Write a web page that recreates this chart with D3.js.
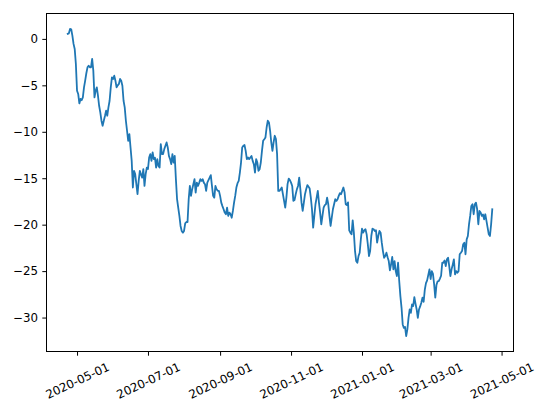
<!DOCTYPE html>
<html><head><meta charset="utf-8">
<script src="https://cdn.jsdelivr.net/npm/d3@7"></script>
<style>
body{margin:0;background:#fff}
svg{display:block}
text{font-family:"DejaVu Sans",sans-serif}
</style>
</head><body>
<svg id="c" width="550" height="413"></svg>
<script>
// ---- data (daily series starting at startDate) ----
const startDate = "2020-04-23";
const values = [
  0.54, 0.6, 1.08, 1.04, 0.36, -0.54, -1.08, -2.7, -5.58, -5.93,
  -6.95, -6.47, -6.6, -6.3, -5.22, -4.5, -3.7, -3.06, -2.88, -3.06,
  -3.06, -2.16, -3.42, -6.3, -5.58, -5.22, -6.12, -7.2, -7.92, -8.81,
  -9.35, -8.81, -8.3, -7.73, -8.27, -7.38, -6.66, -5.22, -4.14, -4.31,
  -3.96, -4.5, -5.22, -5.0, -4.85, -4.31, -4.5, -5.04, -6.66, -7.38,
  -8.81, -9.89, -10.97, -10.25, -11.69, -13.13, -16.0, -14.2, -14.56, -15.64,
  -16.72, -15.29, -14.2, -14.6, -14.93, -14.02, -15.83, -14.56, -13.85, -14.0,
  -12.77, -12.41, -13.13, -12.23, -12.94, -12.8, -13.85, -12.94, -13.67, -13.85,
  -11.33, -12.41, -12.41, -11.87, -11.5, -11.15, -11.69, -12.59, -12.94, -13.48,
  -12.41, -13.31, -12.6, -15.1, -17.26, -18.17, -19.06, -20.14, -20.68, -20.86,
  -20.68, -19.85, -19.71, -19.71, -17.26, -15.83, -16.9, -16.18, -15.64, -15.1,
  -16.55, -15.47, -15.83, -15.5, -15.1, -15.29, -15.1, -15.47, -15.64, -16.36,
  -15.47, -15.2, -14.93, -14.67, -15.83, -16.9, -17.09, -15.83, -16.18, -16.36,
  -16.36, -16.9, -17.63, -18.0, -18.34, -18.7, -18.88, -18.17, -19.06, -18.7,
  -18.88, -19.25, -18.52, -17.63, -16.9, -16.0, -15.53, -15.29, -14.39, -13.31,
  -11.69, -11.51, -11.43, -12.05, -12.94, -12.77, -12.94, -12.77, -12.6, -13.13,
  -13.48, -14.39, -12.94, -13.31, -14.2, -14.02, -13.31, -12.05, -10.97, -10.8,
  -10.61, -9.54, -8.81, -9.0, -9.89, -11.15, -12.05, -11.15, -10.43, -10.79,
  -12.41, -16.36, -16.36, -16.2, -16.0, -16.72, -17.44, -18.17, -17.09, -15.64,
  -15.04, -15.2, -15.47, -15.83, -17.44, -17.34, -16.72, -16.2, -15.83, -14.93,
  -16.18, -17.63, -18.52, -17.63, -16.72, -16.18, -15.75, -15.9, -16.11, -17.09,
  -18.34, -20.32, -19.06, -17.8, -17.09, -16.36, -17.63, -18.7, -19.96, -19.06,
  -18.17, -17.9, -17.8, -17.09, -17.8, -19.06, -20.14, -19.25, -18.34, -17.8,
  -17.26, -17.44, -17.26, -16.9, -16.61, -16.72, -16.36, -16.0, -16.5, -17.8,
  -17.9, -17.6, -20.6, -20.86, -21.04, -19.53, -20.86, -22.84, -23.92, -24.1,
  -23.38, -23.02, -21.58, -20.43, -20.86, -20.6, -20.5, -21.04, -22.11, -23.38,
  -22.84, -21.22, -20.43, -20.5, -20.68, -20.6, -21.94, -21.22, -20.68, -20.86,
  -21.94, -22.84, -23.56, -23.38, -23.02, -23.5, -23.92, -24.92, -24.27, -23.48,
  -24.81, -23.92, -25.0, -25.53, -24.1, -26.07, -27.69, -28.95, -30.74, -31.11,
  -31.0, -32.0, -31.28, -30.03, -29.13, -29.49, -28.59, -28.77, -27.8, -28.5,
  -29.13, -30.03, -29.13, -28.8, -28.41, -27.85, -28.3, -27.0, -26.3, -26.0,
  -25.4, -24.81, -25.85, -25.0, -25.3, -26.4, -27.85, -26.5, -26.1, -26.07,
  -25.8, -25.5, -24.1, -24.1, -23.85, -24.46, -23.73, -23.56, -24.46, -25.53,
  -24.81, -24.3, -23.73, -25.35, -25.0, -25.18, -25.0, -23.19, -23.02, -22.84,
  -22.11, -21.94, -23.19, -21.58, -21.22, -19.96, -19.06, -17.98, -17.8, -18.88,
  -17.8, -17.63, -18.34, -19.96, -18.52, -18.7, -19.06, -18.9, -19.42, -18.88,
  -19.6, -20.32, -21.04, -21.22, -19.96, -18.34
];
const xTickLabels = ["2020-05-01","2020-07-01","2020-09-01","2020-11-01","2021-01-01","2021-03-01","2021-05-01"];
const yTickValues = [-30, -25, -20, -15, -10, -5, 0];

// ---- layout ----
const plot = {left: 46.5, right: 513.5, top: 13.5, bottom: 351.5};
const fontSize = 11.8, tickLen = 4.2, tickPad = 4.2, rot = 25;

const parse = d3.utcParse("%Y-%m-%d");
const t0 = parse(startDate);
const data = values.map((v, i) => ({date: d3.utcDay.offset(t0, i), value: v}));

const xExt = d3.extent(data, d => d.date);
const xSpan = xExt[1] - xExt[0];
const x = d3.scaleUtc()
  .domain([new Date(+xExt[0] - 0.05 * xSpan), new Date(+xExt[1] + 0.05 * xSpan)])
  .range([plot.left, plot.right]);
const yExt = d3.extent(values);
const ySpan = yExt[1] - yExt[0];
const y = d3.scaleLinear()
  .domain([yExt[0] - 0.05 * ySpan, yExt[1] + 0.05 * ySpan])
  .range([plot.bottom, plot.top]);

const svg = d3.select("#c");
svg.append("rect").attr("width", 550).attr("height", 413).attr("fill", "#fff");

// line
svg.append("path")
  .datum(data)
  .attr("fill", "none")
  .attr("stroke", "#1f77b4")
  .attr("stroke-width", 1.8)
  .attr("stroke-linejoin", "round")
  .attr("stroke-linecap", "square")
  .attr("d", d3.line().x(d => x(d.date)).y(d => y(d.value)));

// spines
svg.append("rect")
  .attr("x", plot.left).attr("y", plot.top)
  .attr("width", plot.right - plot.left).attr("height", plot.bottom - plot.top)
  .attr("fill", "none").attr("stroke", "#000").attr("stroke-width", 1);

// x axis
const xAxis = d3.axisBottom(x)
  .tickValues(xTickLabels.map(parse))
  .tickFormat(d3.utcFormat("%Y-%m-%d"))
  .tickSize(tickLen).tickPadding(tickPad);
const gx = svg.append("g").attr("transform", `translate(0,${plot.bottom})`).call(xAxis);
gx.select(".domain").remove();
gx.selectAll(".tick line").attr("stroke", "#000").attr("stroke-width", 1);
const rad = rot * Math.PI / 180;
gx.selectAll(".tick text")
  .attr("fill", "#000")
  .attr("font-size", fontSize)
  .attr("font-family", "DejaVu Sans")
  .each(function () {
    const t = d3.select(this);
    t.attr("y", null).attr("dy", null)
     .attr("text-anchor", "middle")
     .attr("dominant-baseline", "central");
    const w = this.getComputedTextLength();
    const h = fontSize * 1.2;
    const bh = w * Math.sin(rad) + h * Math.cos(rad);
    t.attr("transform", `translate(0,${tickLen + tickPad + bh / 2}) rotate(${-rot})`);
  });

// y axis
const yAxis = d3.axisLeft(y).tickValues(yTickValues).tickSize(tickLen).tickPadding(tickPad);
const gy = svg.append("g").attr("transform", `translate(${plot.left},0)`).call(yAxis);
gy.select(".domain").remove();
gy.selectAll(".tick line").attr("stroke", "#000").attr("stroke-width", 1);
gy.selectAll(".tick text")
  .attr("fill", "#000")
  .attr("font-size", fontSize)
  .attr("font-family", "DejaVu Sans");
</script>
</body></html>
